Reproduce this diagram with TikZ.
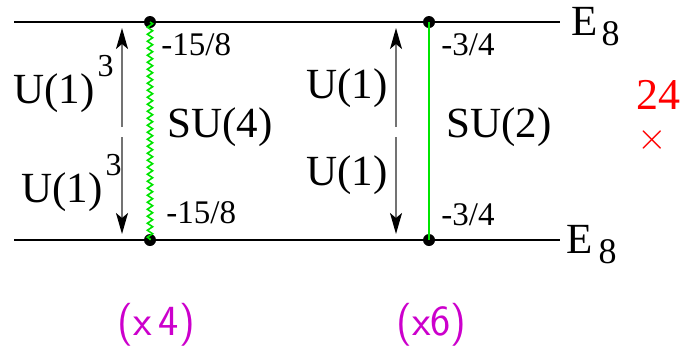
\documentclass[tikz,border=0pt]{standalone}
\usepackage{fontspec}
\setmainfont{Liberation Serif}
\usetikzlibrary{arrows.meta,decorations.pathmorphing,positioning}
\definecolor{multpink}{RGB}{204,0,204}
\tikzset{every picture/.style={line width=0.75pt}}
\tikzset{
  brane/.style={line width=2pt, black},
  dot/.style={circle, fill=black, inner sep=0pt, minimum size=12pt},
  span/.style={line width=1.6pt, black!55, -{Stealth[length=21pt,width=12pt,inset=5pt,color=black]}},
  bigtxt/.style={font=\fontsize{43}{43}\selectfont, inner sep=0pt, anchor=base west},
  smalltxt/.style={font=\fontsize{33}{33}\selectfont, inner sep=0pt, anchor=base west},
  mult/.style={font=\sffamily\fontsize{43}{43}\selectfont, text=multpink, inner sep=0pt, anchor=base west}
}
\newcommand{\upthree}{\hspace{3pt}\raisebox{27pt}{\fontsize{32}{32}\selectfont 3}}
\newcommand{\loweight}[1]{\hspace{#1}\raisebox{-10pt}{\fontsize{36}{36}\selectfont 8}}

\begin{document}
\begin{tikzpicture}[x=1pt,y=-1pt]
    \useasboundingbox (0,0) rectangle (683,349);

    % the two E8 walls
    \coordinate (tl) at (14,22);
    \coordinate (tr) at (560,22);
    \coordinate (bl) at (14,240);
    \coordinate (br) at (560,240);
    \draw[brane] (tl) -- (tr);
    \draw[brane] (bl) -- (br);

    % points where the branes end
    \node[dot] (a1) at (150,22) {};
    \node[dot] (a2) at (150,240) {};
    \node[dot] (b1) at (429,22) {};
    \node[dot] (b2) at (429,240) {};

    % SU(4) and SU(2) branes
    \draw[green!90!black, line width=1.6pt, decorate,
          decoration={zigzag, segment length=7pt, amplitude=2.6pt}] (a1.center) -- (a2.center);
    \draw[green!90!black, line width=1.8pt] (b1.center) -- (b2.center);

    % arrows between the walls
    \coordinate (u1) at (122,127);
    \coordinate (u1t) at (122,28);
    \coordinate (d1) at (122,137);
    \coordinate (d1t) at (122,234);
    \coordinate (u2) at (396,127);
    \coordinate (u2t) at (396,28);
    \coordinate (d2) at (396,137);
    \coordinate (d2t) at (396,234);
    \draw[span] (u1) -- (u1t);
    \draw[span] (d1) -- (d1t);
    \draw[span] (u2) -- (u2t);
    \draw[span] (d2) -- (d2t);

    % group labels
    \node[bigtxt] (g1) at (13,103) {U(1)\upthree};
    \node[bigtxt] (g2) at (21,202) {U(1)\upthree};
    \node[bigtxt] (g3) at (167,137) {SU(4)};
    \node[bigtxt] (g4) at (306,98) {U(1)};
    \node[bigtxt] (g5) at (306,185) {U(1)};
    \node[bigtxt] (g6) at (446,137) {SU(2)};

    % charges
    \node[smalltxt] (q1) at (161,55) {-15/8};
    \node[smalltxt] (q2) at (166,223) {-15/8};
    \node[smalltxt] (q3) at (441,55) {-3/4};
    \node[smalltxt] (q4) at (441,225) {-3/4};

    % walls
    \node[bigtxt] (e1) at (571,35) {E\loweight{4pt}};
    \node[bigtxt] (e2) at (566,253) {E\loweight{6pt}};

    % multiplicity
    \node[bigtxt, text=red, font=\fontsize{44}{44}\selectfont] (n24) at (636,109) {24};
    \node[text=red, inner sep=0pt, anchor=north] (tm) at (652,127) {\scalebox{3.8}{$\times$}};
    \node[mult] (m1) at (117,335) {(x\,4)};
    \node[mult] (m2) at (396,335) {(x6)};
\end{tikzpicture}
\end{document}
